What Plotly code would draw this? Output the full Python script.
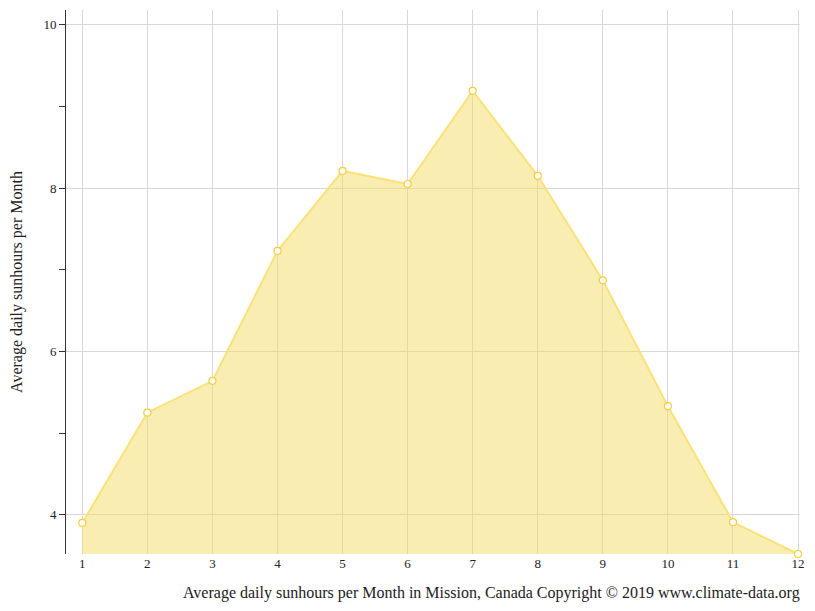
import plotly.graph_objects as go

months = [1, 2, 3, 4, 5, 6, 7, 8, 9, 10, 11, 12]
sunhours = [3.90, 5.25, 5.64, 7.23, 8.21, 8.05, 9.19, 8.15, 6.87, 5.33, 3.91, 3.52]

fig = go.Figure()
fig.add_trace(go.Scatter(
    x=months, y=sunhours, mode="lines+markers", fill="tozeroy",
    fillcolor="rgba(245,220,100,0.5)",
    line=dict(color="rgba(250,225,120,1)", width=2),
    marker=dict(size=7, color="white", line=dict(color="rgba(245,205,60,1)", width=1.2)),
    showlegend=False, cliponaxis=False))

font = dict(family="Liberation Serif", color="#222")
fig.update_layout(
    width=799, height=595, paper_bgcolor="white", plot_bgcolor="white",
    margin=dict(l=58, r=7, t=2, b=49), font=font,
    xaxis=dict(range=[0.75, 12.03], tickvals=months, showgrid=True, gridcolor="#d8d8d8",
               zeroline=False, showline=False, ticks="", tickfont=dict(size=13, family="Liberation Serif")),
    yaxis=dict(range=[3.52, 10.18], tickvals=[4, 6, 8, 10], showgrid=True, gridcolor="#d8d8d8",
               zeroline=False, showline=True, linecolor="#333", ticks="outside", ticklen=6,
               tickcolor="#333", minor=dict(tickvals=[5, 7, 9], ticks="outside", ticklen=6, tickcolor="#333"),
               tickfont=dict(size=13, family="Liberation Serif"),
               title=dict(text="Average daily sunhours per Month", font=dict(size=16, family="Liberation Serif"), standoff=18)),
    annotations=[dict(text="Average daily sunhours per Month in Mission, Canada Copyright © 2019 www.climate-data.org",
                      xref="paper", yref="paper", x=1.003, y=-0.052, xanchor="right", yanchor="top",
                      showarrow=False, font=dict(size=16, family="Liberation Serif", color="#222"))])
fig.write_html("out.html")
